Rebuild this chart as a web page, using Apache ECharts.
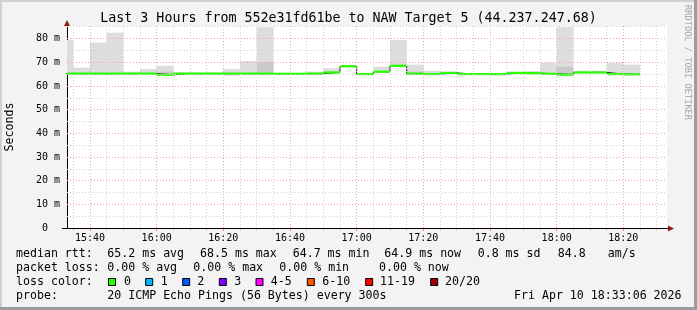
<!DOCTYPE html>
<html><head><meta charset="utf-8">
<script src="https://cdn.jsdelivr.net/npm/echarts@6/dist/echarts.min.js"></script>
<style>html,body{margin:0;padding:0;background:#f3f3f3}#c{width:697px;height:310px}</style>
</head><body><div id="c"></div>
<script>
// ---- data ----
const stepStarts = ["15:30","15:35","15:40","15:45","15:50","15:55","16:00","16:05","16:10","16:15",
  "16:20","16:25","16:30","16:35","16:40","16:45","16:50","16:55","17:00","17:05",
  "17:10","17:15","17:20","17:25","17:30","17:35","17:40","17:45","17:50","17:55",
  "18:00","18:05","18:10","18:15","18:20"];
const medianRtt = [65.2,65.2,65.2,65.2,65.2,65.2,64.7,65.2,65.2,65.2,
  65.2,65.2,65.2,65.1,65.1,65.2,65.7,68.3,65.0,66.0,
  68.5,65.2,65.0,65.5,65.0,65.0,65.0,65.5,65.4,65.1,
  64.8,65.7,65.7,65.0,64.9];
const smokeLow = [64.7,64.7,64.7,64.7,64.7,64.7,64.2,64.7,64.7,64.7,
  64.2,64.6,64.6,64.6,64.6,64.7,65.2,67.8,64.5,65.5,
  68.0,64.6,64.5,65.0,64.5,64.5,64.3,65.0,64.9,64.6,
  64.1,65.2,65.2,64.5,64.4];
const smokeHigh = [79.4,67.7,78.3,82.5,66.0,67.1,68.5,65.6,65.6,65.6,
  67.1,70.5,84.8,65.5,65.5,66.0,67.5,68.7,65.4,68.1,
  79.4,69.0,66.4,66.0,65.4,65.4,65.4,65.9,66.3,69.8,
  84.8,66.0,66.3,69.8,69.0];
const innerLow  = [null,null,null,null,null,null,64.4,null,null,null,
  null,null,64.8,null,null,null,null,null,null,null,
  null,64.7,null,null,null,null,null,null,null,null,
  64.3,null,null,null,null];
const innerHigh = [null,null,null,null,null,null,66.0,null,null,null,
  null,null,70.0,null,null,null,null,null,null,null,
  null,66.0,null,null,null,null,null,null,null,null,
  68.1,null,null,null,null];
const xTickLabels = ["15:40","16:00","16:20","16:40","17:00","17:20","17:40","18:00","18:20"];
const xMinorTicks = ["15:35","15:45","15:50","15:55","16:05","16:10","16:15","16:25","16:30","16:35",
  "16:45","16:50","16:55","17:05","17:10","17:15","17:25","17:30","17:35","17:45","17:50","17:55",
  "18:05","18:10","18:15","18:25","18:30"];
const yMajor = [10,20,30,40,50,60,70,80];
const yMinor = [5,15,25,35,45,55,65,75,85];
const timeStart = "15:33:06", timeEnd = "18:33:06";
const yMax = 85.3;
const stepMin = 5;
const lossLabels = ["0","1","2","3","4-5","6-10","11-19","20/20"];
const lossColors = ["#26ff00","#00b8ff","#0059ff","#7e00ff","#ff00ff","#ff5500","#ff0000","#a10000"];

// ---- helpers ----
const toMin = s => { const p = s.split(':').map(Number); return p[0]*60 + p[1] + (p[2]||0)/60; };
const fmtT = v => { const h = Math.floor(v/60), m = Math.round(v - h*60); return h + ':' + String(m).padStart(2,'0'); };
const MONO = "'DejaVu Sans Mono', monospace";

const smokeData = stepStarts.map((s,i)=>[toMin(s), smokeLow[i], smokeHigh[i]]);
const innerData = stepStarts.map((s,i)=> innerLow[i]==null ? null : [toMin(s), innerLow[i], innerHigh[i]]).filter(Boolean);
const medianLine = stepStarts.map((s,i)=>[toMin(s), medianRtt[i]]);
medianLine.push([toMin(stepStarts[stepStarts.length-1]) + stepMin, medianRtt[medianRtt.length-1]]);
const bandData = stepStarts.map((s,i)=>[toMin(s), medianRtt[i]]);

function rectItem(fill){
  return function(params, api){
    const s = api.value(0), lo = api.value(1), hi = api.value(2);
    const a = api.coord([s, hi]), b = api.coord([s + stepMin, lo]);
    const cs = params.coordSys;
    const x0 = Math.max(a[0], cs.x), x1 = Math.min(b[0], cs.x + cs.width);
    if (x1 <= x0) return null;
    return {type:'rect', shape:{x:x0, y:a[1], width:x1-x0, height:b[1]-a[1]}, style:{fill:fill}};
  };
}
function bandItem(params, api){
  const s = api.value(0), m = api.value(1);
  const a = api.coord([s, m]), b = api.coord([s + stepMin, m]);
  const cs = params.coordSys;
  const x0 = Math.max(a[0], cs.x), x1 = Math.min(b[0], cs.x + cs.width);
  if (x1 <= x0) return null;
  return {type:'rect', shape:{x:x0, y:a[1]-1.1, width:x1-x0, height:2.2}, style:{fill:lossColors[0]}};
}

const gray = '#d2d2d2', pink = '#f2a6a6';
const gridLines = [];
xMinorTicks.forEach(t => gridLines.push({xAxis: toMin(t), lineStyle:{color:gray}}));
xTickLabels.forEach(t => gridLines.push({xAxis: toMin(t), lineStyle:{color:pink}}));
yMinor.forEach(v => gridLines.push({yAxis: v, lineStyle:{color:gray}}));
yMajor.forEach(v => gridLines.push({yAxis: v, lineStyle:{color:pink}}));

const txt = (x, y, text, extra) => Object.assign({type:'text', x:x, y:y, silent:true,
  style:Object.assign({text:text, fill:'#000', font:'11.6px ' + MONO, textVerticalAlign:'middle'}, extra||{})});

const graphics = [
  {type:'rect', shape:{x:0,y:0,width:697,height:2}, style:{fill:'#d0d0d0'}, silent:true},
  {type:'rect', shape:{x:0,y:0,width:2,height:310}, style:{fill:'#d0d0d0'}, silent:true},
  {type:'rect', shape:{x:694,y:0,width:3,height:310}, style:{fill:'#9c9c9c'}, silent:true},
  {type:'rect', shape:{x:0,y:307,width:697,height:3}, style:{fill:'#9c9c9c'}, silent:true},
  txt(348.5, 19, 'Last 3 Hours from 552e31fd61be to NAW Target 5 (44.237.247.68)', {font:'13.3px ' + MONO, textAlign:'center'}),
  {type:'text', x:10, y:127, rotation:Math.PI/2, silent:true,
    style:{text:'Seconds', fill:'#000', font:'11.6px ' + MONO, textAlign:'center', textVerticalAlign:'middle'}},
  {type:'text', x:687, y:5, rotation:-Math.PI/2, silent:true,
    style:{text:'RRDTOOL / TOBI OETIKER', fill:'#a8a8a8', font:'8.7px ' + MONO, textAlign:'left', textVerticalAlign:'middle'}},
  {type:'line', shape:{x1:62,y1:228.5,x2:668,y2:228.5}, style:{stroke:'#000', lineWidth:1}, silent:true, z:10},
  {type:'polygon', shape:{points:[[64,26],[70,26],[67,20]]}, style:{fill:'#8b1a1a'}, silent:true, z:10},
  {type:'polygon', shape:{points:[[668,225.5],[668,231.5],[674,228.5]]}, style:{fill:'#8b1a1a'}, silent:true, z:10},
  // legend rows
  txt(16, 254, 'median rtt:'), txt(107.3, 254, '65.2 ms avg'), txt(200, 254, '68.5 ms max'),
  txt(292.7, 254, '64.7 ms min'), txt(384.3, 254, '64.9 ms now'), txt(477.7, 254, '0.8 ms sd'),
  txt(557.7, 254, '84.8'), txt(607.7, 254, 'am/s'),
  txt(16, 268, 'packet loss:'), txt(107.3, 268, '0.00 % avg'), txt(193.3, 268, '0.00 % max'),
  txt(279.3, 268, '0.00 % min'), txt(379, 268, '0.00 % now'),
  txt(16, 282, 'loss color:'),
  txt(16, 296, 'probe:'), txt(107.3, 296, '20 ICMP Echo Pings (56 Bytes) every 300s'),
  txt(514, 296, 'Fri Apr 10 18:33:06 2026')
];
const boxX = [108.5,145.7,182.7,219.3,256,307.3,365.7,430.7];
const labX = [124,160.7,197.3,234.3,270.7,322.3,380,445];
lossLabels.forEach((l,i)=>{
  graphics.push({type:'rect', shape:{x:boxX[i], y:278.5, width:7, height:7}, style:{fill:lossColors[i], stroke:'#000', lineWidth:1}, silent:true});
  graphics.push(txt(labX[i], 282, l));
});

const chart = echarts.init(document.getElementById('c'), null, {renderer:'canvas'});
chart.setOption({
  animation:false,
  backgroundColor:'#f3f3f3',
  grid:{left:67, right:30, top:26, bottom:82, show:true, backgroundColor:'#ffffff', borderWidth:0},
  xAxis:[{
    type:'value', min:toMin(timeStart), max:toMin(timeEnd),
    axisLine:{show:false}, splitLine:{show:false},
    axisTick:{show:true, customValues:xTickLabels.map(toMin), length:3, lineStyle:{color:'#f08080'}},
    axisLabel:{customValues:xTickLabels.map(toMin), formatter:v=>fmtT(v), color:'#000', fontFamily:MONO, fontSize:10, margin:5}
  },{
    type:'value', min:toMin(timeStart), max:toMin(timeEnd), position:'bottom',
    axisLine:{show:false}, splitLine:{show:false}, axisLabel:{show:false},
    axisTick:{show:true, customValues:xMinorTicks.map(toMin), length:2, lineStyle:{color:'#c8c8c8'}}
  }],
  yAxis:{
    type:'value', min:0, max:yMax, interval:10,
    axisLine:{show:true, lineStyle:{color:'#000'}}, axisTick:{show:false}, splitLine:{show:false},
    axisLabel:{color:'#000', fontFamily:MONO, fontSize:10, margin:7,
      formatter:v => v === 0 ? '0  ' : (v % 10 === 0 && v <= 80 ? v + ' m' : '')}
  },
  series:[
    {type:'custom', name:'smoke', z:1, renderItem:rectItem('#dddddd'), data:smokeData, encode:{x:0, y:[1,2]}, silent:true},
    {type:'custom', name:'smokeInner', z:1, renderItem:rectItem('#c9c9c9'), data:innerData, encode:{x:0, y:[1,2]}, silent:true},
    {type:'line', name:'grid', z:2, data:[], silent:true,
      markLine:{silent:true, symbol:['none','none'], label:{show:false}, animation:false,
        lineStyle:{type:[1,2], width:1}, data:gridLines}},
    {type:'line', name:'medianLine', z:3, step:'end', data:medianLine, showSymbol:false, symbol:'none',
      lineStyle:{color:'#202020', width:1}, silent:true},
    {type:'custom', name:'median', z:4, renderItem:bandItem, data:bandData, encode:{x:0, y:1}, silent:true}
  ],
  graphic:graphics
});
</script></body></html>
